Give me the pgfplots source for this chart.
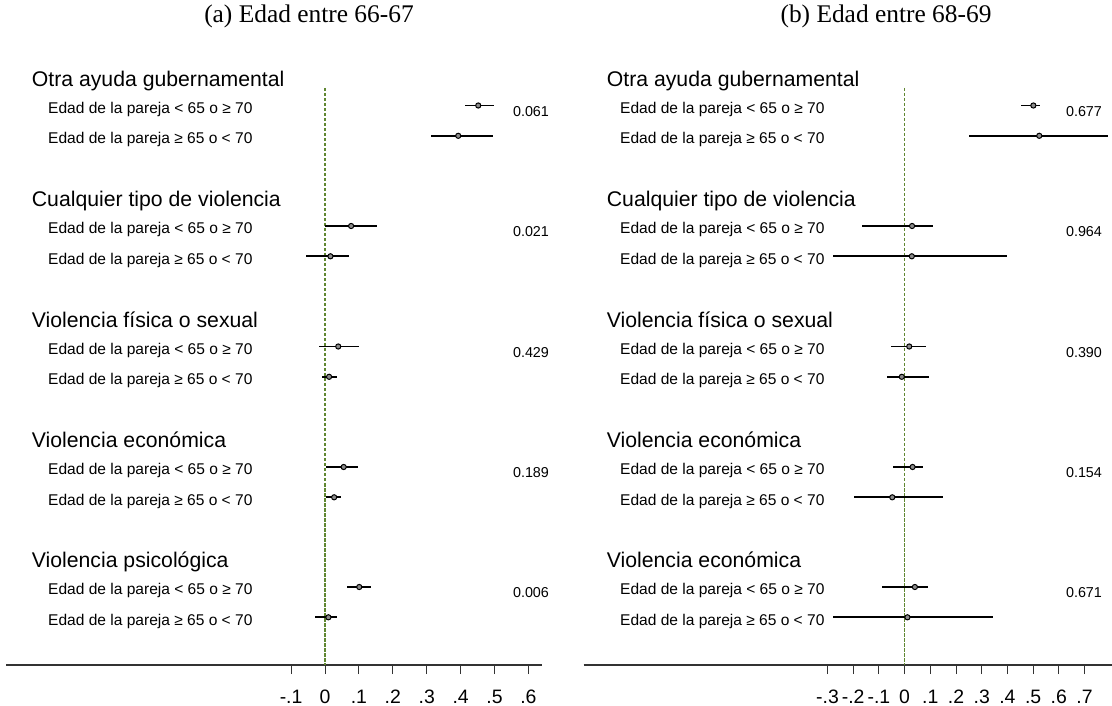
\documentclass[border=0pt]{standalone}
\usepackage{pgfplots}
\pgfplotsset{compat=1.18}
\usepackage{pgfplotstable}
\usepackage{fontspec}
\setmainfont{Liberation Sans}
\newfontfamily\titlefont{Liberation Serif}
\definecolor{zeroline}{RGB}{96,135,50}

% y = vertical position of the row (pixels from top), b = estimate, lo/hi = CI
\pgfplotstableread{
y     b      lo      hi
105.5 0.452  0.413   0.497
135.8 0.393  0.313   0.495
226.0 0.077  0.000   0.152
256.3 0.016  -0.056  0.072
346.5 0.039  -0.017  0.100
376.8 0.012  -0.008  0.034
467.0 0.055  0.002   0.096
497.3 0.027  0.002   0.047
587.0 0.101  0.066   0.137
617.3 0.010  -0.030  0.036
}\leftdata

\pgfplotstableread{
y     b      lo      hi
105.5 0.501  0.452   0.527
135.8 0.524  0.251   0.793
226.0 0.029  -0.167  0.112
256.3 0.028  -0.277  0.397
346.5 0.018  -0.054  0.083
376.8 -0.011 -0.067  0.094
467.0 0.031  -0.044  0.073
497.3 -0.048 -0.197  0.151
587.0 0.040  -0.087  0.090
617.3 0.011  -0.280  0.345
}\rightdata

\pgfplotsset{
  forest/.style={
    scale only axis,
    anchor=south west,
    height=615bp,
    y dir=reverse, ymin=50, ymax=665,
    axis x line=bottom, axis y line=none,
    axis line style={-, line width=1.2bp, black!80},
    tick align=outside,
    major tick length=9bp,
    xtick style={line width=1bp, black!80},
    ytick=\empty,
    xticklabel style={font=\fontsize{19.5}{19.5}\selectfont, yshift=-15bp, inner sep=1bp},
    clip=false,
  },
  ci/.style={only marks, mark=*, mark size=2.6bp,
    mark options={draw=black, fill=black!45, line width=1bp},
    error bars/.cd, x dir=both, x explicit, error mark=none,
    error bar style={line width=1.8bp, black}},
}

\begin{document}
\begin{tikzpicture}
\useasboundingbox (0,0) rectangle (1112bp,706bp);

\begin{axis}[forest, at={(6.4bp,41bp)}, width=535.4bp,
  xmin=-0.9398, xmax=0.6395,
  xtick={-0.1,0,0.1,0.2,0.3,0.4,0.5,0.6},
  xticklabels={-.1,0,.1,.2,.3,.4,.5,.6}]
  \addplot[zeroline, line width=1.4bp, dash pattern=on 3.5bp off 1.5bp] coordinates {(0,88) (0,665)};
  \addplot[ci] table[x=b, y=y,
    x error plus expr=\thisrow{hi}-\thisrow{b},
    x error minus expr=\thisrow{b}-\thisrow{lo}] {\leftdata};
\end{axis}

\begin{axis}[forest, at={(583.6bp,41bp)}, width=528.4bp,
  xmin=-1.249, xmax=0.807,
  xtick={-0.3,-0.2,-0.1,0,0.1,0.2,0.3,0.4,0.5,0.6,0.7},
  xticklabels={-.3,-.2,-.1,0,.1,.2,.3,.4,.5,.6,.7}]
  \addplot[zeroline, line width=1.4bp, dash pattern=on 3.5bp off 1.5bp] coordinates {(0,88) (0,665)};
  \addplot[ci] table[x=b, y=y,
    x error plus expr=\thisrow{hi}-\thisrow{b},
    x error minus expr=\thisrow{b}-\thisrow{lo}] {\rightdata};
\end{axis}

\begin{scope}[shift={(0,706bp)}, x=1bp, y=-1bp]
  % titles
  \node[anchor=base, inner sep=0pt, font=\titlefont\fontsize{25.5}{25.5}\selectfont] at (309,22.5) {(a) Edad entre 66-67};
  \node[anchor=base, inner sep=0pt, font=\titlefont\fontsize{25.5}{25.5}\selectfont] at (886,22.5) {(b) Edad entre 68-69};

  % group headers
  \begin{scope}[every node/.style={anchor=base west, inner sep=0pt, font=\fontsize{21.3}{21.3}\selectfont}]
    \node at (31.7,86.5) {Otra ayuda gubernamental};
    \node at (31.7,207) {Cualquier tipo de violencia};
    \node at (31.7,327.5) {Violencia física o sexual};
    \node at (31.7,448) {Violencia económica};
    \node at (31.7,568) {Violencia psicológica};
    \node at (606.7,86.5) {Otra ayuda gubernamental};
    \node at (606.7,207) {Cualquier tipo de violencia};
    \node at (606.7,327.5) {Violencia física o sexual};
    \node at (606.7,448) {Violencia económica};
    \node at (606.7,568) {Violencia económica};
  \end{scope}

  % row labels
  \begin{scope}[every node/.style={anchor=base west, inner sep=0pt, font=\fontsize{15.6}{15.6}\selectfont}]
    \foreach \r in {113.3,233.8,354.3,474.8,594.8} {
      \node at (48,\r) {Edad de la pareja < 65 o ≥ 70};
      \node at (620,\r) {Edad de la pareja < 65 o ≥ 70};
    }
    \foreach \r in {143.6,264.1,384.6,505.1,625.1} {
      \node at (48,\r) {Edad de la pareja ≥ 65 o < 70};
      \node at (620,\r) {Edad de la pareja ≥ 65 o < 70};
    }
  \end{scope}

  % p-values
  \begin{scope}[every node/.style={anchor=center, inner sep=0pt, font=\fontsize{14.4}{14.4}\selectfont}]
    \node at (531,111.5) {0.061};
    \node at (531,232) {0.021};
    \node at (531,352.5) {0.429};
    \node at (531,473) {0.189};
    \node at (531,593) {0.006};
    \node at (1084,111.5) {0.677};
    \node at (1084,232) {0.964};
    \node at (1084,352.5) {0.390};
    \node at (1084,473) {0.154};
    \node at (1084,593) {0.671};
  \end{scope}
\end{scope}
\end{tikzpicture}
\end{document}
